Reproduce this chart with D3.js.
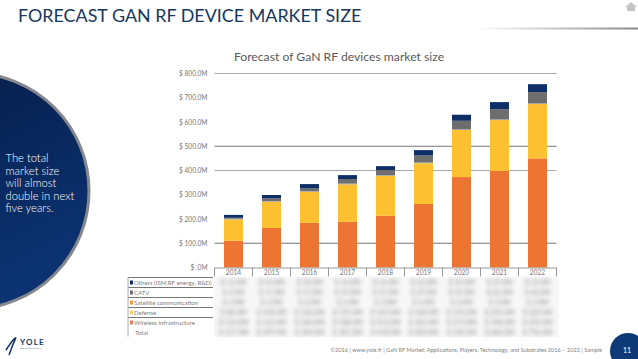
<!DOCTYPE html>
<html>
<head>
<meta charset="utf-8">
<script src="https://cdnjs.cloudflare.com/ajax/libs/d3/7.8.5/d3.min.js"></script>
<style>
  html, body { margin: 0; padding: 0; background: #fff; }
  svg { display: block; }
  text { font-family: Lato, "Open Sans", sans-serif; }
  .y-axis text, .x-axis text { fill: #777; font-size: 6.6px; }
  .x-axis line, .x-axis path { stroke: #999; }
  .y-axis path, .y-axis line { display: none; }
</style>
</head>
<body>
<div id="chart"></div>
<script>
// data ($M)
var years = ["2014", "2015", "2016", "2017", "2018", "2019", "2020", "2021", "2022"];
var wireless = [110, 163, 184, 188, 213, 262, 373, 398, 450];
var defense = [88, 108, 128, 155, 165, 168, 194, 210, 224];
var satellite = [3, 3, 3, 3, 3, 3, 3, 3, 3];
var catv = [4, 11, 11, 19, 21, 29, 35, 42, 46];
var others = [12, 14, 18, 16, 16, 22, 25, 29, 33];
var yTicks = [0, 100, 200, 300, 400, 500, 600, 700, 800];
var gridValues = [100, 400, 500, 800];

var seriesNames = ["Others (ISM,RF energy, R&D)", "CATV", "Satellite communication", "Defense", "Wireless infrastructure"];
var seriesKeys = ["others", "catv", "satellite", "defense", "wireless"];
var seriesColors = { wireless: "#ed7533", defense: "#fdc030", satellite: "#a5a5a5", catv: "#6e6e6e", others: "#0e2f66" };
var keyColors = ["#0e2f66", "#6e6e6e", "#ed9a50", "#f2cf70", "#d9825a"];

var title = "FORECAST GAN RF DEVICE MARKET SIZE";
var chartTitle = "Forecast of GaN RF devices market size";
var noteLines = ["The total", "market size", "will almost", "double in next", "five years."];
var footer = "©2016 | www.yole.fr | GaN RF Market:  Applications, Players, Technology, and Substrates 2016 – 2022 | Sample";

var rows = years.map(function(y, i) {
  return { year: y, wireless: wireless[i], defense: defense[i], satellite: satellite[i], catv: catv[i], others: others[i],
    total: wireless[i] + defense[i] + satellite[i] + catv[i] + others[i] };
});

var width = 638, height = 359;
var svg = d3.select("#chart").append("svg").attr("width", width).attr("height", height);
var defs = svg.append("defs");

var grad = defs.append("linearGradient").attr("id", "navy").attr("x1", 0).attr("y1", 0).attr("x2", 0.5).attr("y2", 1);
grad.append("stop").attr("offset", "0%").attr("stop-color", "#061a44");
grad.append("stop").attr("offset", "100%").attr("stop-color", "#0b3372");

var lineGrad = defs.append("linearGradient").attr("id", "rule");
lineGrad.append("stop").attr("offset", "0%").attr("stop-color", "#fff");
lineGrad.append("stop").attr("offset", "45%").attr("stop-color", "#ccc");
lineGrad.append("stop").attr("offset", "100%").attr("stop-color", "#888");

defs.append("filter").attr("id", "blur").attr("x", "-10%").attr("y", "-20%").attr("width", "120%").attr("height", "140%")
  .append("feGaussianBlur").attr("stdDeviation", 1.9);

// header
svg.append("text").attr("x", 18).attr("y", 22).attr("fill", "#17375e").attr("font-size", 17.9).text(title);
svg.append("rect").attr("x", 475).attr("y", 27.5).attr("width", 163).attr("height", 2).attr("fill", "url(#rule)");

// home icon
var home = svg.append("g").attr("transform", "translate(631,7)").attr("fill", "#c4c4c4");
home.append("path").attr("d", d3.line()([[-6, 0], [0, -5], [6, 0]]) + "Z");
home.append("rect").attr("x", -4).attr("y", 0).attr("width", 8).attr("height", 4);

// side circle
svg.append("circle").attr("cx", -29).attr("cy", 191).attr("r", 118)
  .attr("fill", "url(#navy)").attr("stroke", "#85898f").attr("stroke-width", 3);
svg.append("g").selectAll("text").data(noteLines).enter().append("text")
  .attr("x", 5.5)
  .attr("y", function(d, i) { return 162 + i * 12.6; })
  .attr("fill", "#fff").attr("font-size", 11.2).attr("font-weight", 300)
  .text(function(d) { return d; });

// chart
var margin = { left: 214.5, right: 81.5, top: 73.5, bottom: 91.5 };
var innerW = width - margin.left - margin.right;
var innerH = height - margin.top - margin.bottom;
var g = svg.append("g").attr("transform", "translate(" + margin.left + "," + margin.top + ")");

svg.append("text").attr("x", 339).attr("y", 61).attr("text-anchor", "middle")
  .attr("fill", "#595959").attr("font-size", 12.2).text(chartTitle);

var x = d3.scaleBand().domain(years).range([0, innerW]).paddingInner(0.5).paddingOuter(0.25);
var band = d3.scaleBand().domain(years).range([0, innerW]);
var y = d3.scaleLinear().domain([0, 800]).range([innerH, 0]);

g.selectAll(".grid").data(gridValues).enter().append("line")
  .attr("class", "grid")
  .attr("x1", 0).attr("x2", innerW)
  .attr("y1", function(d) { return y(d); }).attr("y2", function(d) { return y(d); })
  .attr("stroke", function(d) { return d == 400 || d == 800 ? "#aaa" : "#777"; });

var yAxis = d3.axisLeft(y).tickValues(yTicks).tickSize(0).tickPadding(7)
  .tickFormat(function(d) { return d == 0 ? "$ .0M" : "$ " + d + ".0M"; });
g.append("g").attr("class", "y-axis").call(yAxis);

var stack = d3.stack().keys(["wireless", "defense", "satellite", "catv", "others"]);
g.selectAll(".layer").data(stack(rows)).enter().append("g")
  .attr("class", "layer")
  .attr("fill", function(d) { return seriesColors[d.key]; })
  .selectAll("rect").data(function(d) { return d; }).enter().append("rect")
  .attr("x", function(d) { return x(d.data.year); })
  .attr("width", x.bandwidth())
  .attr("y", function(d) { return y(d[1]); })
  .attr("height", function(d) { return y(d[0]) - y(d[1]); });

var xAxis = d3.axisBottom(band).tickSize(0).tickPadding(3);
var xg = g.append("g").attr("class", "x-axis").attr("transform", "translate(0," + innerH + ")").call(xAxis);
xg.selectAll(".divider").data(years.concat(["end"])).enter().append("line")
  .attr("class", "divider")
  .attr("x1", function(d, i) { return i * band.bandwidth(); })
  .attr("x2", function(d, i) { return i * band.bandwidth(); })
  .attr("y1", 0).attr("y2", 9);

// data table under the chart, values are blurred in the original
var tableTop = 277.5, rowH = 10;
var tableRows = seriesNames.concat(["Total"]);
var fmt = d3.format(".1f");
var table = svg.append("g");

table.append("rect").attr("x", 214).attr("y", 277).attr("width", 345).attr("height", 60).attr("fill", "#f7f7f7");

table.selectAll(".row-line").data(d3.range(0, 5)).enter().append("line")
  .attr("x1", 128).attr("x2", 213)
  .attr("y1", function(d) { return tableTop + d * rowH; }).attr("y2", function(d) { return tableTop + d * rowH; })
  .attr("stroke", "#777");
table.append("line").attr("x1", 128).attr("x2", 128).attr("y1", tableTop).attr("y2", tableTop + 6 * rowH - 1).attr("stroke", "#aaa");

table.selectAll(".row-name").data(tableRows).enter().append("text")
  .attr("x", function(d, i) { return i == 5 ? 135 : 134; })
  .attr("y", function(d, i) { return tableTop + i * rowH + 7; })
  .attr("fill", "#808080").attr("font-size", 6.1)
  .text(function(d) { return d; });
table.selectAll(".row-key").data(keyColors).enter().append("rect")
  .attr("x", 130).attr("width", 3).attr("height", 4)
  .attr("y", function(d, i) { return tableTop + i * rowH + 3; })
  .attr("fill", function(d) { return d; });

var blurred = table.append("g").attr("filter", "url(#blur)");
seriesKeys.concat(["total"]).forEach(function(key, r) {
  blurred.selectAll(".cell-" + r).data(rows).enter().append("text")
    .attr("x", function(d) { return margin.left + band(d.year) + band.bandwidth() / 2; })
    .attr("y", tableTop + r * rowH + 7.5)
    .attr("text-anchor", "middle").attr("fill", "#888").attr("font-size", 7)
    .text(function(d) { return "$ " + fmt(d[key]) + "M"; });
});

// footer
svg.append("text").attr("x", 602).attr("y", 352).attr("text-anchor", "end")
  .attr("fill", "#7f7f7f").attr("font-size", 5.6).text(footer);
svg.append("circle").attr("cx", 628).attr("cy", 351).attr("r", 18).attr("fill", "#0e3a75");
svg.append("text").attr("x", 627).attr("y", 353).attr("text-anchor", "middle")
  .attr("fill", "#fff").attr("font-size", 7).text("11");

// yole logo
svg.append("path").attr("d", d3.line().curve(d3.curveBasis)([[6, 350], [10, 344], [13, 340], [17, 336], [13, 344], [11, 350], [9, 355]]))
  .attr("fill", "none").attr("stroke", "#0e2f66").attr("stroke-width", 1.5);
svg.append("text").attr("x", 20).attr("y", 345).attr("fill", "#17375e").attr("font-size", 8).attr("font-weight", 700).attr("letter-spacing", 1.2).text("YOLE");
svg.append("text").attr("x", 20).attr("y", 349).attr("fill", "#6a7a90").attr("font-size", 2.6).text("DEVELOPPEMENT");
</script>
</body>
</html>
